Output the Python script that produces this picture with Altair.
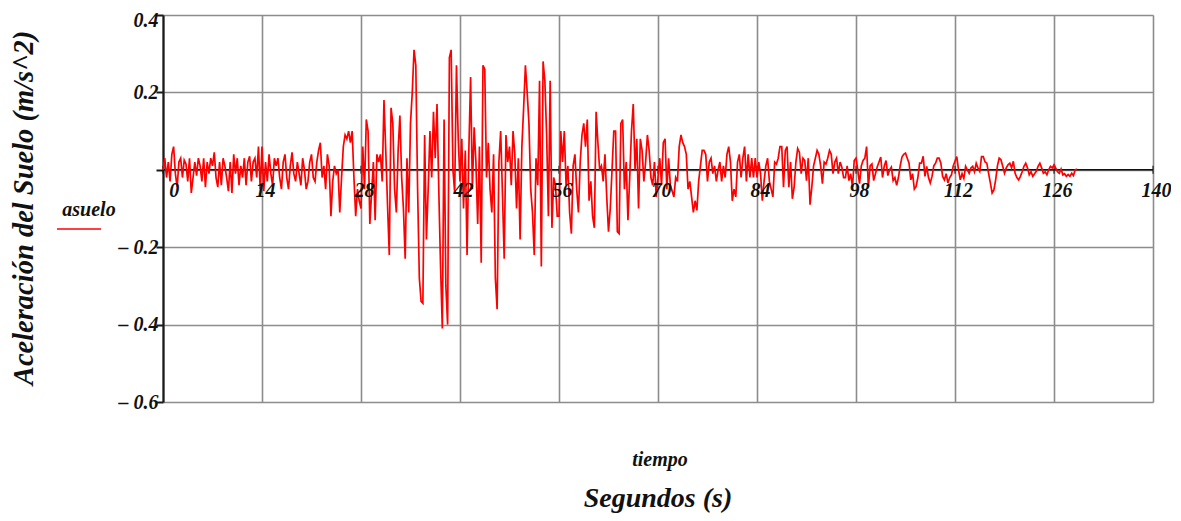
import altair as alt
import pandas as pd

# ---------------- data (0.25 s step) ----------------
DT = 0.25

acc_000 = [0.00, 0.03, -0.02, 0.02, -0.03, 0.04, 0.06, -0.01, -0.045, 0.02, 0.03, -0.02, 0.025, 0.015,
           -0.03, 0.03, -0.06, -0.02, 0.02, -0.015, 0.03, 0.01, -0.03, 0.03, -0.045, 0.02, -0.01, 0.03,
           0.01, 0.045, -0.02, -0.045, 0.02, -0.04, 0.03, 0.01, -0.02, -0.055, 0.02, -0.06, 0.04, -0.01,
           0.03, -0.04, 0.01, -0.02, 0.03, -0.04, 0.02, 0.035, -0.03, 0.02, 0.03, -0.02, 0.06, -0.05]

acc_014 = [0.06, -0.055, 0.02, -0.03, 0.04, -0.01, -0.04, 0.03, 0.01, 0.03, -0.02, -0.05, 0.02, 0.04,
           -0.02, -0.05, 0.01, 0.045, -0.01, -0.03, 0.02, -0.01, -0.04, 0.03, 0.00, -0.05, -0.03, 0.02,
           0.04, -0.02, -0.03, 0.02, 0.05, 0.07, -0.02, 0.01, -0.05, 0.04, 0.01, -0.12, -0.03, 0.01,
           -0.01, 0.00, -0.11, -0.02, 0.06, 0.09, 0.08, 0.10, 0.07, 0.10, -0.02, -0.12, -0.05, -0.08]

acc_028 = [-0.10, 0.06, -0.05, 0.13, 0.10, -0.14, -0.06, 0.02, -0.13, 0.04, 0.02, 0.04, -0.03, 0.18,
           0.05, -0.09, -0.22, 0.16, 0.12, -0.05, -0.11, 0.05, 0.14, -0.02, -0.10, -0.23, 0.03, -0.11,
           0.12, 0.20, 0.31, 0.27, -0.045, -0.28, -0.34, -0.345, 0.09, -0.18, -0.05, 0.10, -0.02, 0.15,
           0.03, 0.17, -0.05, -0.25, -0.41, 0.13, -0.30, -0.40, 0.29, 0.31, 0.00, -0.06, 0.27, 0.08]

acc_042 = [-0.03, 0.08, -0.10, 0.05, -0.22, 0.05, 0.24, -0.05, 0.11, 0.02, -0.14, 0.06, -0.24, 0.27,
           0.26, -0.02, 0.07, -0.05, -0.11, 0.04, -0.28, -0.36, 0.02, 0.10, -0.06, -0.23, 0.09, 0.02,
           0.06, -0.04, 0.10, 0.04, -0.10, 0.03, -0.18, 0.06, 0.16, 0.27, 0.20, 0.12, -0.05, -0.11,
           -0.22, 0.03, -0.04, 0.23, -0.25, 0.28, 0.23, 0.09, -0.12, 0.23, -0.15, -0.02, -0.04, -0.12]

acc_056 = [-0.12, 0.10, 0.02, 0.10, -0.04, 0.01, -0.11, -0.165, 0.01, 0.04, -0.05, -0.11, 0.02, 0.09,
           0.12, 0.06, 0.13, -0.08, -0.03, -0.12, -0.15, 0.15, 0.07, 0.00, 0.01, -0.03, 0.04, -0.07,
           -0.16, -0.10, 0.00, 0.10, 0.10, -0.16, -0.165, 0.12, 0.13, -0.05, 0.02, -0.13, -0.02, 0.10,
           0.17, 0.00, 0.08, -0.10, 0.08, 0.05, -0.03, 0.02, 0.09, 0.05, -0.02, -0.04, 0.02, -0.07]

acc_070 = [-0.02, 0.03, -0.04, 0.07, 0.08, -0.05, 0.03, -0.04, -0.055, -0.07, -0.02, -0.03, 0.06, 0.09,
           0.07, 0.06, 0.04, -0.05, -0.03, -0.07, -0.11, -0.08, -0.105, -0.03, 0.01, 0.05, 0.05, 0.04,
           -0.03, 0.02, 0.03, -0.01, 0.01, -0.03, 0.00, 0.02, -0.03, 0.01, -0.02, 0.04, 0.06, 0.02,
           -0.08, -0.05, -0.07, 0.02, 0.04, -0.02, 0.03, 0.06, -0.03, 0.04, -0.02, 0.03, -0.02, 0.03]

acc_084 = [-0.02, 0.02, -0.01, -0.08, -0.03, 0.01, 0.03, -0.03, -0.05, -0.07, 0.02, 0.015, 0.03, 0.06,
           0.06, -0.045, 0.05, 0.06, -0.045, 0.02, -0.075, -0.045, 0.02, 0.055, 0.045, -0.01, 0.03, 0.024,
           -0.028, 0.03, -0.09, -0.045, 0.01, 0.03, 0.05, 0.04, 0.01, -0.036, 0.02, 0.015, 0.03, 0.05,
           0.04, -0.01, 0.02, 0.03, -0.01, 0.02, 0.007, -0.02, -0.02, 0.01, -0.028, -0.01, -0.045, 0.024]

acc_098 = [0.03, 0.00, -0.036, 0.01, 0.024, 0.03, 0.06, -0.045, 0.01, 0.015, -0.028, -0.01, 0.007, 0.02,
           0.033, -0.02, 0.01, 0.024, -0.015, 0.00, 0.007, -0.028, -0.02, -0.04, -0.02, 0.01, 0.033, 0.04,
           0.043, 0.03, 0.017, -0.026, -0.01, -0.05, -0.043, -0.02, 0.017, 0.017, 0.035, -0.017, 0.009, -0.02,
           -0.034, -0.017, 0.01, 0.017, 0.03, 0.03, 0.017, -0.017, -0.026, -0.01, -0.034, -0.02, -0.013, 0.01]

acc_112 = [0.022, 0.034, 0.00, -0.026, -0.01, -0.022, 0.009, 0.00, -0.009, 0.005, 0.009, -0.005, 0.017, 0.005,
           -0.004, 0.034, 0.034, 0.02, 0.017, -0.009, -0.034, -0.06, -0.052, -0.026, 0.01, 0.03, 0.026, 0.009,
           -0.009, 0.005, 0.013, 0.017, 0.005, 0.022, -0.009, -0.02, -0.026, -0.017, -0.005, 0.009, 0.017, 0.005,
           -0.013, -0.005, -0.017, -0.01, -0.004, 0.009, 0.017, 0.005, -0.009, -0.005, -0.013, 0.00, 0.009, 0.005]

acc_126 = [0.013, 0.004, -0.005, -0.009, 0.002, -0.013, -0.01, -0.017, -0.012, -0.017, -0.009, -0.015, 0.00, 0.002]

segments = [(0, acc_000), (14, acc_014), (28, acc_028), (42, acc_042), (56, acc_056),
            (70, acc_070), (84, acc_084), (98, acc_098), (112, acc_112), (126, acc_126)]

x_ticks = [0, 14, 28, 42, 56, 70, 84, 98, 112, 126, 140]
y_ticks = [-0.6, -0.4, -0.2, 0.0, 0.2, 0.4]

rows = []
for start, vals in segments:
    for i, v in enumerate(vals):
        rows.append({"t": start + i * DT, "a": v})
signal = pd.DataFrame(rows)
ticks_df = pd.DataFrame({"t": x_ticks, "lab": [str(v) for v in x_ticks]})
one = pd.DataFrame({"k": [0]})

# ---------------- styling ----------------
FONT = "Liberation Serif"
GRID = "#8c8c8c"
xs = alt.Scale(domain=[0, 140], nice=False, zero=False)
ys = alt.Scale(domain=[-0.6, 0.4], nice=False, zero=False)

x_axis = alt.Axis(values=x_ticks, grid=True, labels=False, ticks=False, domain=False, title=None,
                  gridColor=GRID, gridWidth=1.6, gridOpacity=1)
y_axis = alt.Axis(values=y_ticks, grid=True, gridColor=GRID, gridWidth=1.6, gridOpacity=1,
                  domain=True, domainColor="#1a1a1a", domainWidth=2.2,
                  ticks=True, tickSize=7, tickColor="#1a1a1a", tickWidth=2,
                  labelFont=FONT, labelFontSize=20, labelFontStyle="italic", labelFontWeight="bold",
                  labelColor="#111111", labelPadding=-2,
                  labelOffset={"condition": {"test": "datum.value > 0.3", "value": 5}, "value": 0},
                  labelExpr="datum.value == 0 ? '' : (datum.value < 0 ? '\u2013 ' + format(-datum.value, '.1f') : format(datum.value, '.1f'))",
                  title=None)

zero_line = alt.Chart(one).mark_rule(color="#111111", strokeWidth=1.6).encode(
    y=alt.datum(0, scale=ys)
)

zero_ticks = alt.Chart(ticks_df).mark_tick(orient="vertical", color="#111111", size=8, thickness=1.5).encode(
    x=alt.X("t:Q", scale=xs, axis=x_axis),
    y=alt.datum(0, scale=ys),
)

line = alt.Chart(signal).mark_line(color="#ff0000", strokeWidth=1.7, interpolate="linear").encode(
    x=alt.X("t:Q", scale=xs, axis=x_axis),
    y=alt.Y("a:Q", scale=ys, axis=y_axis),
)

x_labels = alt.Chart(ticks_df).transform_calculate(
    tl="datum.t + (datum.t == 0 ? 1.6 : 0.5)"
).mark_text(font=FONT, fontSize=20, fontStyle="italic", fontWeight="bold", color="#111111",
            align="center", baseline="middle", dy=21).encode(
    x=alt.X("tl:Q", scale=xs),
    y=alt.datum(0, scale=ys),
    text="lab:N",
)

y_title = alt.Chart(one).mark_text(text="Aceleración del Suelo (m/s^2)", font=FONT, fontSize=28.5,
                                   fontStyle="italic", fontWeight="bold", color="#111111",
                                   angle=270, align="center", baseline="middle").encode(
    x=alt.value(-139), y=alt.value(193)
)

legend_text = alt.Chart(one).mark_text(text="asuelo", font=FONT, fontSize=20, fontStyle="italic",
                                       fontWeight="bold", color="#111111", align="center",
                                       baseline="middle").encode(
    x=alt.value(-74), y=alt.value(195)
)
legend_line = alt.Chart(one).mark_rule(color="#ff0000", strokeWidth=1.5).encode(
    x=alt.value(-106), x2=alt.value(-62), y=alt.value(214)
)

tiempo = alt.Chart(one).mark_text(text="tiempo", font=FONT, fontSize=20, fontStyle="italic",
                                  fontWeight="bold", color="#111111", align="center",
                                  baseline="middle").encode(
    x=alt.value(497), y=alt.value(445)
)
segundos = alt.Chart(one).mark_text(text="Segundos (s)", font=FONT, fontSize=28, fontStyle="italic",
                                    fontWeight="bold", color="#111111", align="center",
                                    baseline="alphabetic").encode(
    x=alt.value(495), y=alt.value(492)
)

chart = alt.layer(
    zero_line, zero_ticks, line, x_labels, y_title, legend_text, legend_line, tiempo, segundos
).properties(
    width=990, height=387,
    autosize=alt.AutoSizeParams(type="none"),
    padding={"left": 155, "top": 7, "right": 18, "bottom": 115},
    background="white",
).configure_view(strokeWidth=0)

chart.save("out.html", embed_options={"renderer": "svg", "actions": False})
